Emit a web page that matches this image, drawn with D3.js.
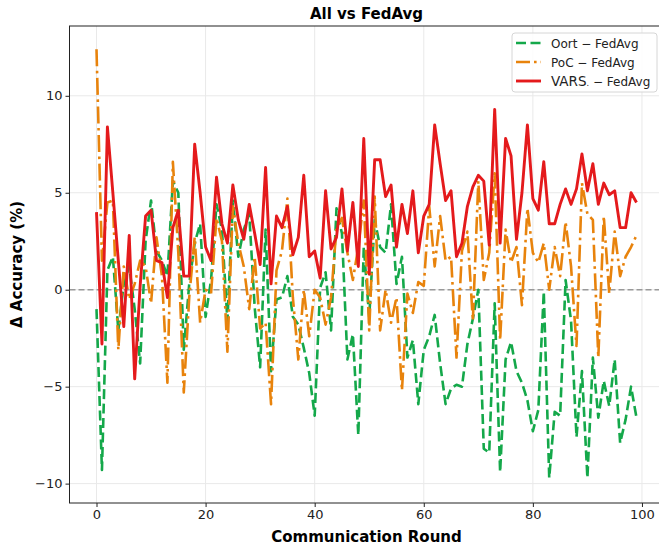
<!DOCTYPE html>
<html>
<head>
<meta charset="utf-8">
<script src="https://cdn.jsdelivr.net/npm/d3@7"></script>
<style>
  body { margin: 0; background: #fff; }
  svg { font-family: "DejaVu Sans", sans-serif; }
</style>
</head>
<body>
<div id="chart"></div>
<script>
// Valores (rondas 0..99)
const rounds = d3.range(0, 100);

const oort = [
  -1.0, -9.3, 1.0, 1.7, -2.1, 0.3, 1.2, -1.0, -3.8, 2.5,
  4.6, 2.0, 1.5, 0.7, 5.6, 5.0, -3.1, 0.3, 2.4, 3.4,
  -1.4, 0.5, 4.4, 3.1, -1.6, 4.6, 1.7, 3.1, 3.9, -0.9,
  -4.0, 3.1, -4.2, -0.5, -0.4, 0.7, -1.4, -1.8, -3.0, -4.3,
  -6.5, 0.1, 0.9, -2.1, 4.2, 2.9, -3.6, -2.3, -7.5, 2.2,
  -1.4, 3.6, 2.2, 1.9, 4.4, 0.3, 1.7, -3.5, -2.6, -5.9,
  -3.1, -2.4, -1.3, -3.8, -5.9, -5.1, -4.9, -5.0, -2.8, -1.5,
  0.0, -8.2, -8.4, -0.7, -9.4, -3.6, -2.7, -4.2, -4.8, -5.7,
  -7.3, -6.2, -0.1, -9.7, -6.3, -6.5, 0.5, -1.6, -7.6, -4.2,
  -9.7, -3.5, -6.6, -4.7, -6.0, -3.6, -7.9, -6.7, -5.0, -6.6
];

const poc = [
  12.4, 1.5, 4.5, 4.6, -3.1, 1.2, -0.5, 0.3, 1.5, 1.2,
  -0.7, 2.7, 0.7, -4.8, 6.6, 1.9, -5.3, -0.4, 2.7, -1.7,
  0.0, -0.2, 3.7, 2.5, -3.2, 4.3, 2.4, 1.2, -1.0, 1.7,
  -2.0, -1.7, -5.9, 1.0, 2.0, 4.7, -0.4, -3.6, 0.0, -2.4,
  0.0, -0.4, -1.8, -0.4, 3.2, 3.7, 1.9, 0.5, 2.2, 4.6,
  -2.1, 4.8, -2.1, 0.0, -1.7, -0.4, -5.2, -0.2, -1.2, 0.4,
  0.2, 4.3, 1.2, 3.8, 1.5, 1.7, -3.5, 2.0, 3.0, -1.6,
  5.6, 0.5, 1.9, 6.0, -2.6, 3.1, 1.4, 2.2, -0.8, 4.2,
  1.9, 1.4, 2.4, 0.0, 2.2, 0.7, 3.5, 1.2, -2.9, 5.5,
  3.9, 3.6, -3.5, 3.8, -0.2, 3.0, 0.7, 1.7, 2.2, 2.8
];

const vars = [
  4.0, -2.8, 8.4, 5.0, 1.5, -1.9, 2.8, -4.6, 0.2, 3.8,
  4.1, 1.5, 1.4, -0.4, 3.2, 4.1, 0.7, 0.7, 7.5, 5.0,
  2.2, 1.5, 5.8, 3.4, 2.4, 5.4, 3.6, 2.6, 4.4, 2.9,
  1.3, 6.3, 0.3, 3.8, 3.2, 4.3, 1.8, 2.7, 5.9, 1.7,
  2.0, 0.6, 5.1, 2.1, 2.7, 5.2, 2.0, 4.5, 1.2, 7.8,
  0.8, 6.7, 6.7, 4.8, 5.4, 2.2, 4.4, 2.9, 5.1, 1.9,
  3.8, 4.4, 8.5, 6.5, 4.6, 5.1, 1.7, 2.4, 4.3, 5.3,
  5.9, 5.6, 2.3, 9.3, 2.4, 7.8, 6.9, 2.6, 5.0, 8.5,
  4.7, 4.1, 6.6, 3.4, 3.4, 4.4, 5.2, 4.4, 5.2, 7.0,
  5.1, 6.5, 4.4, 5.5, 4.9, 5.1, 3.2, 3.2, 5.0, 4.5
];

const xTicks = [0, 20, 40, 60, 80, 100];
const yTicks = [-10, -5, 0, 5, 10];

const series = [
  {name: "Oort", values: oort, color: "#14a84a", dash: "10,4.5", width: 2.6},
  {name: "PoC", values: poc, color: "#e8830c", dash: "17,4.5,2.6,4.5", width: 2.6},
  {name: "VARS", values: vars, color: "#e41a1c", dash: null, width: 2.9}
];

const W = 659, H = 546;
const margin = {left: 69.5, right: 663.5, top: 26, bottom: 503};

const x = d3.scaleLinear().domain([-4.95, 103.95]).range([margin.left, margin.right]);
const y = d3.scaleLinear().domain([-11.0, 13.6]).range([margin.bottom, margin.top]);

const svg = d3.select('#chart')
    .append('svg')
    .attr('width', W)
    .attr('height', H);

svg.append('defs').append('clipPath').attr('id', 'clip')
    .append('rect')
    .attr('x', margin.left).attr('y', margin.top)
    .attr('width', margin.right - margin.left).attr('height', margin.bottom - margin.top);

//Rejilla
svg.append('g')
    .selectAll('line')
    .data(xTicks)
    .enter()
    .append('line')
    .attr('x1', d => x(d)).attr('x2', d => x(d))
    .attr('y1', margin.top).attr('y2', margin.bottom)
    .attr('stroke', '#e9e9e9')
    .attr('stroke-width', 1);

svg.append('g')
    .selectAll('line')
    .data(yTicks)
    .enter()
    .append('line')
    .attr('x1', margin.left).attr('x2', margin.right)
    .attr('y1', d => y(d)).attr('y2', d => y(d))
    .attr('stroke', '#e9e9e9')
    .attr('stroke-width', 1);

//Línea del cero
svg.append('line')
    .attr('x1', margin.left).attr('x2', margin.right)
    .attr('y1', y(0)).attr('y2', y(0))
    .attr('stroke', '#999')
    .attr('stroke-width', 1.6)
    .attr('stroke-dasharray', '6,3');

//Series
const line = d3.line()
    .x((d, i) => x(rounds[i]))
    .y(d => y(d));

const plot = svg.append('g').attr('clip-path', 'url(#clip)');

series.forEach(function(s) {
    plot.append('path')
        .datum(s.values)
        .attr('fill', 'none')
        .attr('stroke', s.color)
        .attr('stroke-width', s.width)
        .attr('stroke-linejoin', 'round')
        .attr('stroke-dasharray', s.dash)
        .attr('d', line);
});

//Ejes
const xAxis = svg.append('g')
    .attr('transform', 'translate(0,' + margin.bottom + ')')
    .call(d3.axisBottom(x).tickValues(xTicks).tickSize(4).tickPadding(3));

const yAxis = svg.append('g')
    .attr('transform', 'translate(' + margin.left + ',0)')
    .call(d3.axisLeft(y).tickValues(yTicks).tickSize(4).tickPadding(3)
        .tickFormat(d => d < 0 ? '\u2212' + Math.abs(d) : d));

[xAxis, yAxis].forEach(function(a) {
    a.select('.domain').remove();
    a.selectAll('text')
        .attr('font-family', '"DejaVu Sans", sans-serif')
        .attr('font-size', 13)
        .attr('fill', '#222');
    a.selectAll('line').attr('stroke', '#222');
});

//Marco
svg.append('rect')
    .attr('x', margin.left).attr('y', margin.top)
    .attr('width', margin.right - margin.left).attr('height', margin.bottom - margin.top)
    .attr('fill', 'none')
    .attr('stroke', '#222')
    .attr('stroke-width', 1);

//Títulos
svg.append('text')
    .attr('x', (margin.left + margin.right) / 2)
    .attr('y', 19)
    .attr('text-anchor', 'middle')
    .attr('font-size', 15)
    .attr('font-weight', 'bold')
    .text('All vs FedAvg');

svg.append('text')
    .attr('x', (margin.left + margin.right) / 2)
    .attr('y', 542)
    .attr('text-anchor', 'middle')
    .attr('font-size', 15)
    .attr('font-weight', 'bold')
    .text('Communication Round');

svg.append('text')
    .attr('transform', 'translate(22,' + ((margin.top + margin.bottom) / 2) + ') rotate(-90)')
    .attr('text-anchor', 'middle')
    .attr('font-size', 15)
    .attr('font-weight', 'bold')
    .text('\u0394 Accuracy (%)');

//Leyenda
const legend = svg.append('g').attr('transform', 'translate(512,33)');

legend.append('rect')
    .attr('width', 145).attr('height', 59)
    .attr('rx', 3)
    .attr('fill', 'rgba(255,255,255,0.85)')
    .attr('stroke', '#d6d6d6');

series.forEach(function(s, i) {
    let g = legend.append('g').attr('transform', 'translate(0,' + (10 + i * 19) + ')');
    g.append('line')
        .attr('x1', 4).attr('x2', 29)
        .attr('stroke', s.color)
        .attr('stroke-width', s.width)
        .attr('stroke-dasharray', s.name === 'PoC' ? '14,4,2.6,4' : s.dash);
    let t = g.append('text')
        .attr('x', 39).attr('y', 4.5)
        .attr('font-size', 12)
        .attr('fill', '#222');
    if(s.name === 'VARS') {
        t.append('tspan').attr('font-size', 13.5).text('VARS');
        t.append('tspan').attr('font-size', 8).text('.');
        t.append('tspan').text(' \u2212 FedAvg');
    } else {
        t.text(s.name + ' \u2212 FedAvg');
    }
});
</script>
</body>
</html>
